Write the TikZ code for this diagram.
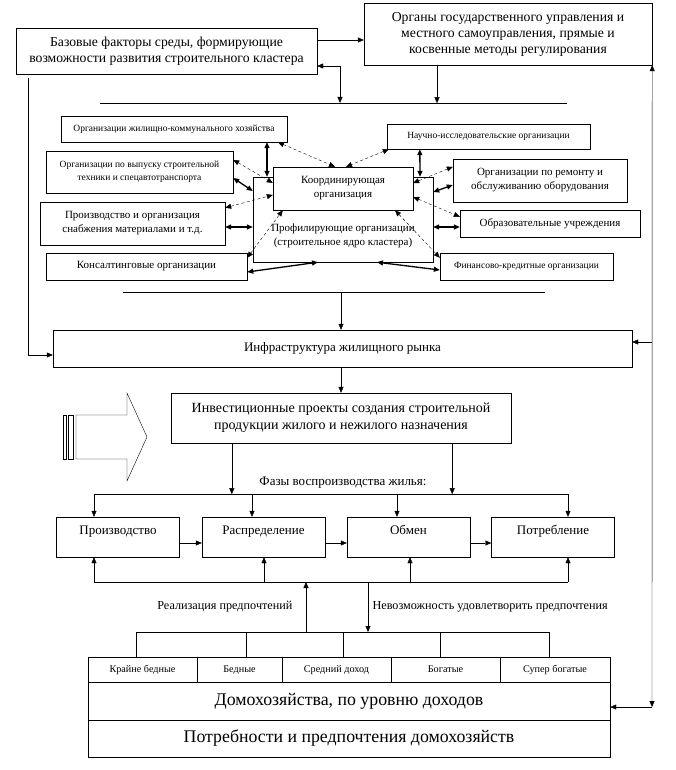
\documentclass[tikz,border=0pt]{standalone}
\usepackage{fontspec}
\setmainfont{Liberation Serif}
\usetikzlibrary{arrows.meta, positioning}
\newcommand{\fmain}{\fontsize{13}{16}\selectfont}
\newcommand{\ftop}{\fontsize{13.7}{16}\selectfont}
\newcommand{\flabel}{\fontsize{12.2}{15}\selectfont}
\newcommand{\fmid}{\fontsize{11}{14}\selectfont}
\newcommand{\fsmall}{\fontsize{9.5}{13}\selectfont}
\newcommand{\fincome}{\fontsize{10.2}{13}\selectfont}
\newcommand{\fbig}{\fontsize{17.8}{20}\selectfont}
\tikzset{
  box/.style={draw, rectangle, inner sep=0pt, align=center, font=\fmain},
  midbox/.style={box, font=\fmid},
  smallbox/.style={box, font=\fsmall},
  phasebox/.style={box, minimum width=123, minimum height=40, text height=9pt, text depth=15pt},
  incbox/.style={box, font=\fincome, minimum height=25, text height=7pt, text depth=2pt},
  arr/.style={-{Stealth[length=6pt, width=5pt, inset=0pt]}},
  darr/.style={{Stealth[length=6pt, width=5pt, inset=0pt]}-{Stealth[length=6pt, width=5pt, inset=0pt]}},
  link/.style={darr, line width=1.3pt},
  dlink/.style={darr, dash pattern=on 3pt off 2.5pt},
}

\begin{document}
\begin{tikzpicture}[x=1pt, y=-1pt]
  \useasboundingbox (0,0) rectangle (675,770);

  % upper level
  \node[box, font=\ftop, minimum width=301, minimum height=46] (baza) at (166.5,51)
    {Базовые факторы среды, формирующие\\возможности развития строительного кластера};
  \node[box, font=\ftop, minimum width=288, minimum height=62] (organy) at (508,34)
    {Органы государственного управления и\\местного самоуправления, прямые и\\косвенные методы регулирования};

  \coordinate (busa) at (100,103);
  \coordinate (busb) at (567,103);
  \coordinate (busc) at (123,292);
  \coordinate (busd) at (545,292);
  \coordinate (rtop) at (652,342);
  \coordinate (rbot) at (652,707);

  \draw[arr] ([yshift=11]baza.east) -- ([yshift=-6]organy.west);
  \draw[darr] ([yshift=-15]baza.east) -| (busa -| 340,0);
  \draw[arr] ([xshift=-71]organy.south) -- ++(0,38);
  \draw (busa) -- (busb);

  % cluster
  \node[smallbox, minimum width=226, minimum height=26] (zhkh) at (174,129)
    {Организации жилищно-коммунального хозяйства};
  \node[smallbox, minimum width=187, minimum height=42] (vypusk) at (139.5,172)
    {Организации по выпуску строительной\\техники и спецавтотранспорта};
  \node[midbox, minimum width=185, minimum height=43] (proizv) at (132.5,223.5)
    {Производство и организация\\снабжения материалами и т.д.};
  \node[midbox, minimum width=201, minimum height=27] (konsalt) at (146.5,266.5)
    {Консалтинговые организации};
  \node[draw, minimum width=180, minimum height=85, inner sep=0pt] (prof) at (343,219.5) {};
  \node[midbox, fill=white, minimum width=140, minimum height=43] (koord) at (343,188.5)
    {Координирующая\\организация};
  \node[font=\fmid, align=center] (proftxt) at (343,236)
    {Профилирующие организации\\(строительное ядро кластера)};
  \node[smallbox, minimum width=203, minimum height=25] (nauch) at (488.5,136.5)
    {Научно-исследовательские организации};
  \node[midbox, minimum width=174, minimum height=43] (remont) at (540,180.5)
    {Организации по ремонту и\\обслуживанию оборудования};
  \node[midbox, minimum width=180, minimum height=27] (obraz) at (550,223.5)
    {Образовательные учреждения};
  \node[smallbox, minimum width=173, minimum height=27] (finans) at (526.5,266.5)
    {Финансово-кредитные организации};

  \draw[link] ([xshift=93]zhkh.south) -- ([xshift=-76]prof.north);
  \draw[dlink] ([xshift=104]zhkh.south) -- ([xshift=-8]koord.north);
  \draw[dlink] ([xshift=2]nauch.south west) -- ([xshift=3]koord.north);
  \draw[link] ([xshift=33]nauch.south west) -- ([xshift=77]prof.north);
  \draw[dlink] ([yshift=-9]vypusk.north east) -- ([yshift=5.5]koord.west);
  \draw[link] ([yshift=-6]vypusk.east) -- ([yshift=28.5]prof.west);
  \draw[dlink] ([yshift=-6]proizv.north east) -- ([yshift=-6.5]koord.west);
  \draw[link] ([yshift=-3.5]proizv.east) -- ([yshift=-7.5]prof.west);
  \draw[dlink] ([yshift=-5]konsalt.north east) -- ([xshift=10]koord.south west);
  \draw[link] ([yshift=-5.5]konsalt.east) -- ([xshift=-25]prof.south);
  \draw[dlink] ([yshift=-8]remont.north west) -- ([yshift=5.5]koord.east);
  \draw[link] ([yshift=-4.5]remont.west) -- ([yshift=27.5]prof.east);
  \draw[dlink] ([yshift=-8.5]koord.east) -- ([yshift=-7]obraz.north west);
  \draw[link] ([yshift=-3.5]obraz.west) -- ([yshift=-7.5]prof.east);
  \draw[dlink] ([xshift=52]koord.south) -- ([yshift=-5]finans.north west);
  \draw[link] ([yshift=-3.5]finans.west) -- ([xshift=34]prof.south);

  \draw (busc) -- (busd);

  % market and projects
  \node[box, minimum width=579, minimum height=37] (infra) at (342.5,348.5)
    {Инфраструктура жилищного рынка};
  \node[box, font=\fontsize{14}{17}\selectfont, minimum width=340, minimum height=50] (invest) at (341,418)
    {Инвестиционные проекты создания строительной\\продукции жилого и нежилого назначения};

  \draw[arr] (busc -| 341,0) -- (infra.north -| 341,0);
  \draw[arr] ([xshift=12,yshift=-4]baza.south west) |- ([yshift=-6.5]infra.west);
  \draw[darr] (organy.south east) -- (rbot);
  \draw[arr] (rtop) -- (rtop -| infra.east);
  \draw[arr] (invest.north |- infra.south) -- (invest.north);

  % striped arrow
  \draw (63.3,415) rectangle (66,459);
  \draw (68.3,415) rectangle (73.3,459);
  \draw (76,415) -- (127,415) -- (127,393) -- (147,437) -- (127,481)
    -- (127,459) -- (76,459) -- cycle;

  % phases
  \node[font=\fmain] (faz) at (343,483) {Фазы воспроизводства жилья:};
  \node[phasebox] (ph1) at (118,537) {Производство};
  \node[phasebox] (ph2) at (263.5,537) {Распределение};
  \node[phasebox] (ph3) at (408.5,537) {Обмен};
  \node[phasebox] (ph4) at (553,537) {Потребление};

  \coordinate (fbus1) at (94,494);
  \coordinate (fbus2) at (568,494);
  \coordinate (gbus1) at (94,582);
  \coordinate (gbus2) at (568,582);

  \draw[arr] ([xshift=61]invest.south west) -- ++(0,51);
  \draw[arr] ([xshift=-59]invest.south east) -- ++(0,51);
  \draw (fbus1) -- (fbus2);
  \draw (gbus1) -- (gbus2);
  \foreach \n/\dx in {ph1/-24, ph2/-11.5, ph3/-11.5, ph4/15}
    \draw[arr] ([xshift=\dx]\n.north |- fbus1) -- ([xshift=\dx]\n.north);
  \foreach \n/\dx in {ph1/-24, ph2/0.5, ph3/1.5, ph4/15}
    \draw[arr] ([xshift=\dx]\n.south |- gbus1) -- ([xshift=\dx]\n.south);
  \draw[arr] ([yshift=-6]ph1.east) -- ([yshift=-6]ph2.west);
  \draw[arr] ([yshift=-6]ph2.east) -- ([yshift=-6]ph3.west);
  \draw[arr] ([yshift=-6]ph3.east) -- ([yshift=-6]ph4.west);

  % households
  \node[incbox, minimum width=109] (inc1) at (142.5,669.5) {Крайне бедные};
  \node[incbox, minimum width=85] (inc2) at (239.5,669.5) {Бедные};
  \node[incbox, minimum width=109] (inc3) at (336.5,669.5) {Средний доход};
  \node[incbox, minimum width=109] (inc4) at (445.5,669.5) {Богатые};
  \node[incbox, minimum width=110] (inc5) at (555,669.5) {Супер богатые};
  \node[box, font=\fbig, minimum width=522, minimum height=38] (dom) at (349,701)
    {Домохозяйства, по уровню доходов};
  \node[box, font=\fbig, minimum width=522, minimum height=37] (potr) at (349,738.5)
    {Потребности и предпочтения домохозяйств};

  \coordinate (brk) at (306,632);
  \draw (136,632) -- (549,632);
  \foreach \xx in {136,246,343,440,549}
    \draw (\xx,632) -- (\xx,657);
  \draw[arr] (brk) -- (brk |- gbus1);
  \draw[arr] (368,582) -- (368,632);
  \node[font=\flabel, anchor=east] (real) at (296,607) {Реализация предпочтений};
  \node[font=\flabel, anchor=west] (nevoz) at (369,607) {Невозможность удовлетворить предпочтения};
  \draw[arr] (rbot) -- (rbot -| dom.east);
\end{tikzpicture}
\end{document}
